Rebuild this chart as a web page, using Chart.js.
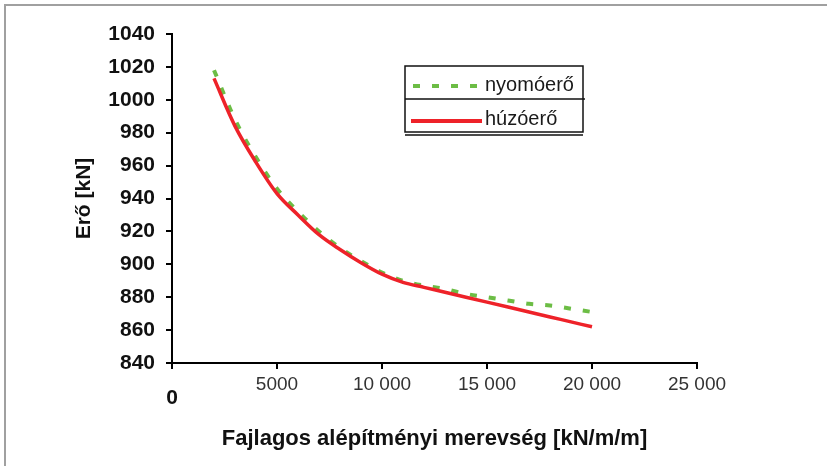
<!DOCTYPE html>
<html>
<head>
<meta charset="utf-8">
<script src="https://cdn.jsdelivr.net/npm/chart.js@4/dist/chart.umd.min.js"></script>
<style>
  body { margin: 0; background: #fff; }
  #wrap { width: 827px; height: 466px; }
</style>
</head>
<body>
<div id="wrap"><canvas id="myChart" width="827" height="466"></canvas></div>
<script>
// stiffness values [kN/m/m]
const stiffness = [2000, 3000, 4000, 5000, 6000, 7000, 8000, 9000, 10000, 11000,
    12000, 13000, 14000, 15000, 16000, 17000, 18000, 19000, 20000];
// compression force (nyomóerő) [kN]
const nyomoero = [1018, 988, 965, 946, 932, 920, 910, 902, 895, 890,
    887, 885, 882, 880, 878, 876, 875, 873, 871];
// tension force (húzóerő) [kN]
const huzoero = [1013, 984, 962, 943, 930, 918, 909, 901, 894, 889,
    886, 883, 880, 877, 874, 871, 868, 865, 862];
const xTickLabels = ['0', '5000', '10 000', '15 000', '20 000', '25 000'];
const yTickLabels = ['840', '860', '880', '900', '920', '940', '960', '980', '1000', '1020', '1040'];

const seriesNames = ['nyomóerő', 'húzóerő'];
const green = '#6cbd45';
const red = '#ee2229';
const fam = '"Liberation Sans", Arial, sans-serif';

const toPoints = (ys) => stiffness.map((x, i) => ({ x, y: ys[i] }));

// frame on the left/top + the boxed legend
const decor = {
    id: 'decor',
    beforeDraw(chart) {
        const ctx = chart.ctx;
        ctx.save();
        ctx.fillStyle = '#fff';
        ctx.fillRect(0, 0, chart.width, chart.height);
        ctx.strokeStyle = '#a0a0a0';
        ctx.lineWidth = 2;
        ctx.beginPath();
        ctx.moveTo(5, chart.height);
        ctx.lineTo(5, 5);
        ctx.lineTo(chart.width, 5);
        ctx.stroke();
        ctx.restore();
    },
    afterDraw(chart) {
        const ctx = chart.ctx;
        const x0 = 405, x1 = 583, y0 = 66, ymid = 99, y1 = 132;
        ctx.save();
        ctx.strokeStyle = '#111';
        ctx.lineWidth = 1.5;
        ctx.strokeRect(x0, y0, x1 - x0, y1 - y0);
        ctx.beginPath();
        ctx.moveTo(x0, ymid); ctx.lineTo(x1 + 2, ymid);
        ctx.moveTo(x0, y1 + 3); ctx.lineTo(x1, y1 + 3);
        ctx.stroke();

        // sample lines
        ctx.lineWidth = 4;
        ctx.strokeStyle = green;
        ctx.setLineDash([7, 12]);
        ctx.beginPath(); ctx.moveTo(413, 86); ctx.lineTo(482, 86); ctx.stroke();
        ctx.setLineDash([]);
        ctx.strokeStyle = red;
        ctx.beginPath(); ctx.moveTo(411, 121); ctx.lineTo(482, 121); ctx.stroke();

        ctx.fillStyle = '#1a1a1a';
        ctx.font = '20px ' + fam;
        ctx.textBaseline = 'middle';
        ctx.fillText(seriesNames[0], 485, 85);
        ctx.fillText(seriesNames[1], 485, 119);
        ctx.restore();
    }
};

const dataChart = {
    datasets: [{
        label: seriesNames[0],
        data: toPoints(nyomoero),
        borderColor: green,
        borderWidth: 4,
        borderDash: [7, 12],
        pointRadius: 0,
        cubicInterpolationMode: 'monotone',
        fill: false,
        order: 1
    }, {
        label: seriesNames[1],
        data: toPoints(huzoero),
        borderColor: red,
        borderWidth: 3.5,
        pointRadius: 0,
        cubicInterpolationMode: 'monotone',
        fill: false,
        order: 0
    }]
};

const config = {
    type: 'line',
    data: dataChart,
    options: {
        responsive: false,
        animation: false,
        layout: { padding: { left: 0, top: 34, right: 130, bottom: 0 } },
        plugins: { legend: { display: false }, tooltip: { enabled: false } },
        scales: {
            x: {
                type: 'linear',
                min: 0,
                max: 25000,
                afterFit: (s) => { s.height = 103; },
                afterBuildTicks: (s) => {
                    s.ticks = xTickLabels.map((t, i) => ({ value: i * 5000 }));
                },
                ticks: {
                    autoSkip: false,
                    maxRotation: 0,
                    padding: 4,
                    color: (c) => c.index === 0 ? '#111' : '#333',
                    font: (c) => c.index === 0
                        ? { family: fam, size: 21, weight: 'bold', lineHeight: 0.8 }
                        : { family: fam, size: 19 },
                    callback: (v, i) => i === 0 ? ['', xTickLabels[0]] : xTickLabels[i]
                },
                grid: { drawOnChartArea: false, drawTicks: true, tickLength: 6, color: '#000', lineWidth: 2 },
                border: { color: '#000', width: 2 },
                title: {
                    display: true,
                    text: 'Fajlagos alépítményi merevség [kN/m/m]',
                    color: '#111',
                    font: { family: fam, size: 22, weight: 'bold' },
                    padding: { top: 0, bottom: 14 }
                }
            },
            y: {
                min: 840,
                max: 1040,
                afterFit: (s) => { s.width = 172; },
                afterBuildTicks: (s) => {
                    s.ticks = yTickLabels.map((t) => ({ value: Number(t) }));
                },
                ticks: {
                    padding: 11,
                    color: '#111',
                    font: { family: fam, size: 21, weight: 'bold' },
                    callback: (v, i) => yTickLabels[i]
                },
                grid: { drawOnChartArea: false, drawTicks: true, tickLength: 6, color: '#000', lineWidth: 2 },
                border: { color: '#000', width: 2 },
                title: {
                    display: true,
                    text: 'Erő [kN]',
                    color: '#111',
                    font: { family: fam, size: 21, weight: 'bold' },
                    padding: { top: 72, bottom: 0 }
                }
            }
        }
    },
    plugins: [decor]
};

const myChart = new Chart(document.getElementById('myChart'), config);
</script>
</body>
</html>
